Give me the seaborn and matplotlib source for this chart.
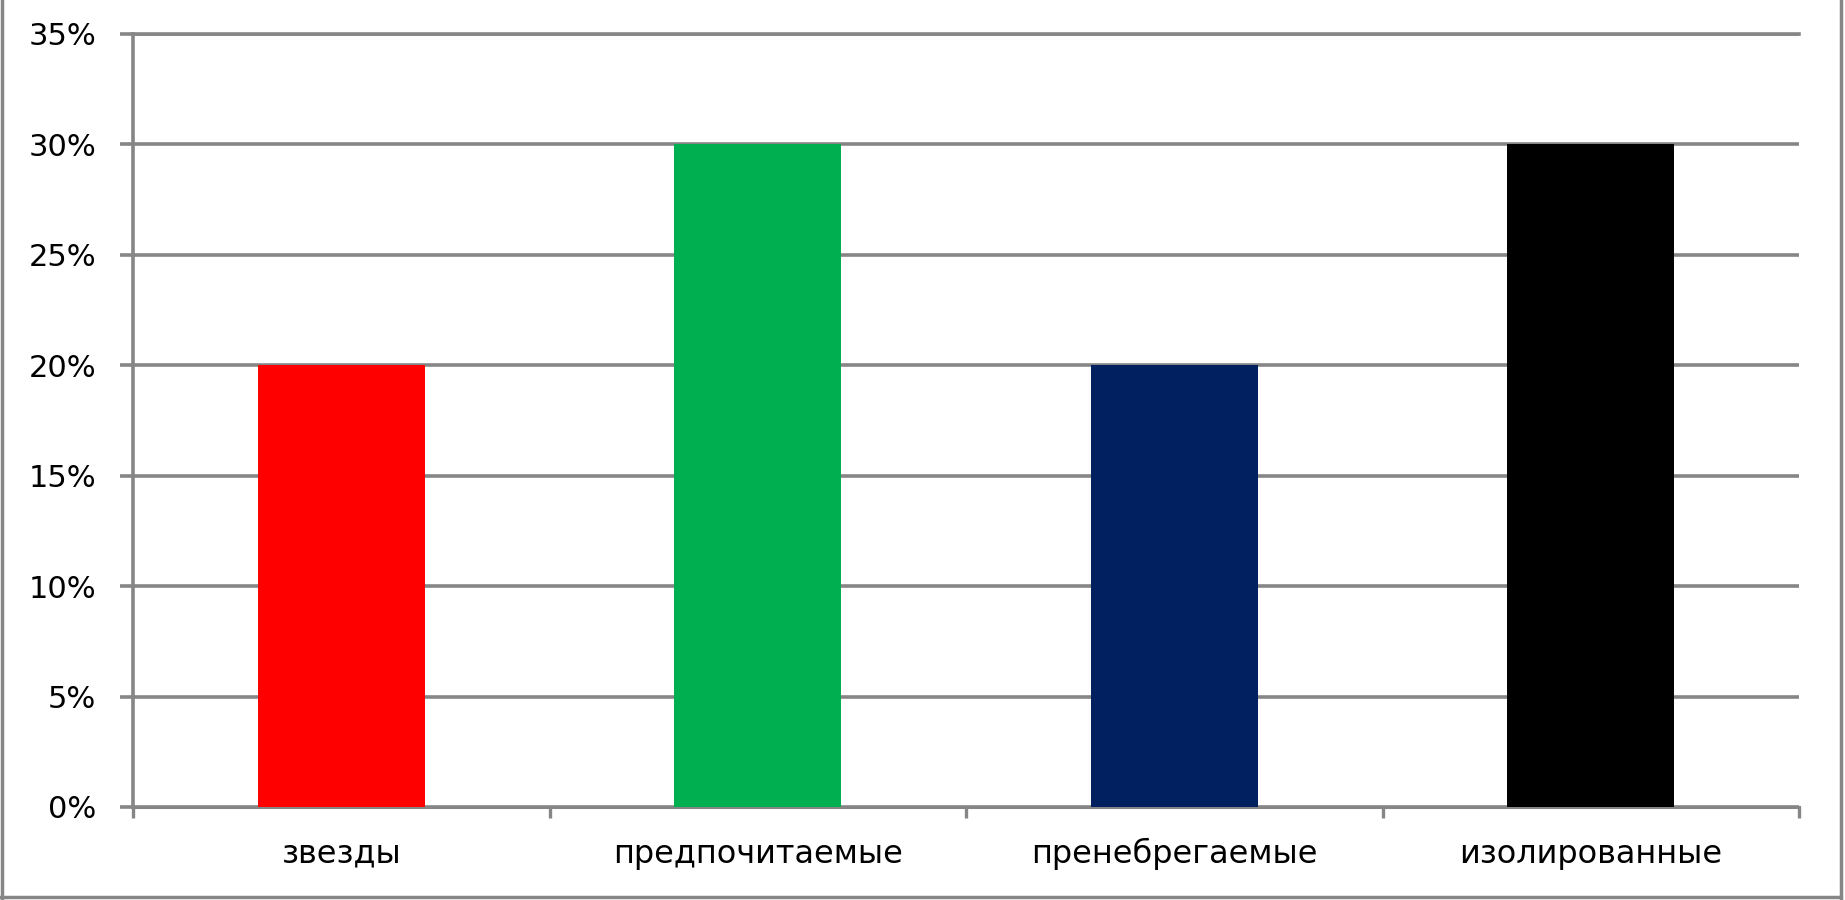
import matplotlib
matplotlib.use("Agg")
import matplotlib.pyplot as plt
import matplotlib.ticker as mticker
from matplotlib.lines import Line2D
import seaborn as sns
import pandas as pd

categories = ["звезды", "предпочитаемые", "пренебрегаемые", "изолированные"]
values = [0.20, 0.30, 0.20, 0.30]
colors = ["#FF0000", "#00B050", "#002060", "#000000"]
yticks = [0.0, 0.05, 0.10, 0.15, 0.20, 0.25, 0.30, 0.35]

sns.set_theme(style="white")
plt.rcParams['font.family'] = ['DejaVu Sans']

GRAY = "#868686"
fig = plt.figure(figsize=(18.45, 9.0), dpi=100)
ax = fig.add_axes([133/1845, 1 - 807/900, (1799 - 133)/1845, (807 - 34)/900])

df = pd.DataFrame({"cat": categories, "val": values})
sns.barplot(data=df, x="cat", y="val", hue="cat", palette=colors, width=0.4,
            saturation=1, legend=False, ax=ax, zorder=3, linewidth=0,
            edgecolor="none")

ax.set_xlim(-0.5, 3.5)
ax.set_ylim(0, 0.35)
ax.set_yticks(yticks)
ax.yaxis.set_major_formatter(mticker.FuncFormatter(lambda v, p: f"{v*100:.0f}%"))
ax.set_xlabel("")
ax.set_ylabel("")

ax.set_axisbelow(True)
ax.yaxis.grid(True, color=GRAY, linewidth=2.6)
ax.xaxis.grid(False)

ax.spines["right"].set_visible(False)
for side in ["left", "top"]:
    ax.spines[side].set_color(GRAY)
    ax.spines[side].set_linewidth(2.6)
ax.spines["bottom"].set_color(GRAY)
ax.spines["bottom"].set_linewidth(2.2)

ax.tick_params(axis="y", which="major", direction="out", length=9.5, width=2.6,
               color=GRAY, pad=17, labelsize=22, labelcolor="black", left=True)
ax.set_xticks(range(len(categories)))
ax.set_xticklabels(categories)
ax.tick_params(axis="x", which="major", length=0, pad=40, labelsize=23,
               labelcolor="black")
for lbl in ax.get_xticklabels():
    lbl.set_verticalalignment("baseline")
ax.xaxis.set_minor_locator(mticker.FixedLocator([-0.5, 0.5, 1.5, 2.5, 3.5]))
ax.tick_params(axis="x", which="minor", direction="out", length=8, width=2.4,
               color=GRAY, bottom=True)

# outer frame of the chart area
fig.add_artist(Line2D([2/1845, 2/1845], [0, 1], transform=fig.transFigure,
                      color=GRAY, linewidth=2.5))
fig.add_artist(Line2D([0, 1841/1845], [1 - 897/900, 1 - 897/900], transform=fig.transFigure,
                      color=GRAY, linewidth=2.5))
fig.add_artist(Line2D([1841/1845, 1841/1845], [0, 1], transform=fig.transFigure,
                      color=GRAY, linewidth=2.5))

fig.savefig("out.png", dpi=100, facecolor="white")
